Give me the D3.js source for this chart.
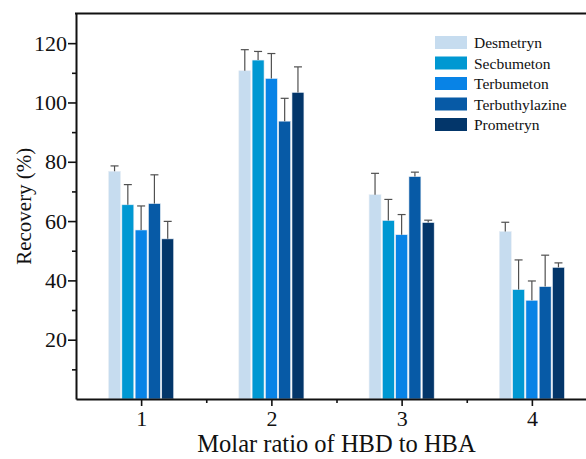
<!DOCTYPE html>
<html>
<head>
  <script src="https://d3js.org/d3.v7.min.js"></script>
  <style>
    body { margin: 0; background: #fff; }
    text { font-family: "Liberation Serif", "Times New Roman", serif; fill: #111; }
  </style>
</head>
<body>
  <svg id="chart"></svg>
  <script>
    // molar ratio groups and compounds
    var ratios = [1, 2, 3, 4];
    var compounds = ['Desmetryn', 'Secbumeton', 'Terbumeton', 'Terbuthylazine', 'Prometryn'];
    var colors = ['#c6dcef', '#0098d2', '#0883e6', '#075aa6', '#03366a'];

    // recovery (%) per compound, one value per ratio
    var desmetryn      = [76.8, 110.7, 68.9, 56.5];
    var secbumeton     = [65.5, 114.3, 60.2, 36.9];
    var terbumeton     = [57.0, 108.1, 55.4, 33.3];
    var terbuthylazine = [65.9, 93.7, 75.0, 37.9];
    var prometryn      = [54.0, 103.4, 59.5, 44.4];

    // upper error (sd)
    var desmetrynErr      = [1.8, 7.1, 7.2, 3.1];
    var secbumetonErr     = [6.8, 2.9, 7.1, 10.0];
    var terbumetonErr     = [8.1, 8.4, 6.8, 6.5];
    var terbuthylazineErr = [9.7, 7.7, 1.5, 10.6];
    var prometrynErr      = [5.9, 8.6, 0.8, 1.5];

    var yTicks = [20, 40, 60, 80, 100, 120];
    var yMinor = [10, 30, 50, 70, 90, 110];
    var xMinor = [1.5, 2.5, 3.5];

    var values = [desmetryn, secbumeton, terbumeton, terbuthylazine, prometryn];
    var errors = [desmetrynErr, secbumetonErr, terbumetonErr, terbuthylazineErr, prometrynErr];

    var data = [];
    ratios.forEach(function(r, gi) {
      compounds.forEach(function(c, ci) {
        data.push({ ratio: r, name: c, value: values[ci][gi], err: errors[ci][gi], color: colors[ci] });
      });
    });

    var svgWidth = 586, svgHeight = 459;
    var plotLeft = 76, plotTop = 13.5, plotBottom = 399;

    var svg = d3.select('#chart')
      .attr('width', svgWidth)
      .attr('height', svgHeight);

    var x = d3.scaleLinear().domain([0.5, 4.5]).range([plotLeft, plotLeft + 521]);
    var y = d3.scaleLinear().domain([0, 130]).range([plotBottom, plotTop]);

    var unit = x(2) - x(1);
    var x1 = d3.scaleBand()
      .domain(compounds)
      .range([-0.25 * unit, 0.25 * unit])
      .paddingInner(0.1);

    // bars
    svg.append('g').selectAll('rect')
      .data(data)
      .enter().append('rect')
      .attr('x', function(d) { return x(d.ratio) + x1(d.name); })
      .attr('y', function(d) { return y(d.value); })
      .attr('width', x1.bandwidth())
      .attr('height', function(d) { return y(0) - y(d.value); })
      .attr('fill', function(d) { return d.color; })
      .attr('stroke', '#e8eef5')
      .attr('stroke-width', 0.6);

    // error bars (upper only)
    var eb = svg.append('g')
      .attr('stroke', '#505050')
      .attr('stroke-width', 1.2)
      .selectAll('g')
      .data(data)
      .enter().append('g');
    eb.append('line')
      .attr('x1', function(d) { return x(d.ratio) + x1(d.name) + x1.bandwidth() / 2; })
      .attr('x2', function(d) { return x(d.ratio) + x1(d.name) + x1.bandwidth() / 2; })
      .attr('y1', function(d) { return y(d.value); })
      .attr('y2', function(d) { return y(d.value + d.err); });
    eb.append('line')
      .attr('x1', function(d) { return x(d.ratio) + x1(d.name) + x1.bandwidth() / 2 - 4; })
      .attr('x2', function(d) { return x(d.ratio) + x1(d.name) + x1.bandwidth() / 2 + 4; })
      .attr('y1', function(d) { return y(d.value + d.err); })
      .attr('y2', function(d) { return y(d.value + d.err); });

    // axes
    svg.append('g')
      .attr('transform', 'translate(0,' + plotBottom + ')')
      .call(d3.axisBottom(x).tickValues(ratios).tickFormat(d3.format('d'))
        .tickSize(7).tickSizeOuter(0).tickPadding(4));
    svg.append('g')
      .attr('transform', 'translate(0,' + plotBottom + ')')
      .call(d3.axisBottom(x).tickValues(xMinor).tickFormat('').tickSize(4))
      .select('.domain').remove();

    svg.append('g')
      .attr('transform', 'translate(' + plotLeft + ',0)')
      .call(d3.axisLeft(y).tickValues(yTicks).tickSize(8).tickSizeOuter(0).tickPadding(1));
    svg.append('g')
      .attr('transform', 'translate(' + plotLeft + ',0)')
      .call(d3.axisLeft(y).tickValues(yMinor).tickFormat('').tickSize(4))
      .select('.domain').remove();

    svg.selectAll('.domain').attr('stroke', '#111').attr('stroke-width', 2);
    svg.selectAll('.tick line').attr('stroke', '#111').attr('stroke-width', 1.6);
    svg.selectAll('.tick text')
      .style('font-family', '"Liberation Serif", serif')
      .attr('font-size', 22)
      .attr('fill', '#111');

    // top frame line
    svg.append('line')
      .attr('x1', plotLeft - 1).attr('x2', svgWidth)
      .attr('y1', plotTop).attr('y2', plotTop)
      .attr('stroke', '#111').attr('stroke-width', 2);

    // axis titles
    svg.append('text')
      .attr('x', x(2.5))
      .attr('y', 452)
      .attr('text-anchor', 'middle')
      .attr('font-size', 24.5)
      .text('Molar ratio of HBD to HBA');

    svg.append('text')
      .attr('transform', 'translate(31,' + y(65) + ') rotate(-90)')
      .attr('text-anchor', 'middle')
      .attr('font-size', 21)
      .text('Recovery (%)');

    // legend
    var legend = svg.append('g')
      .attr('transform', 'translate(435,36)')
      .selectAll('g')
      .data(compounds)
      .enter().append('g')
      .attr('transform', function(d, i) { return 'translate(0,' + i * 20.5 + ')'; });
    legend.append('rect')
      .attr('width', 32)
      .attr('height', 13)
      .attr('fill', function(d, i) { return colors[i]; });
    legend.append('text')
      .attr('x', 39)
      .attr('y', 12)
      .attr('font-size', 15.5)
      .text(function(d) { return d; });
  </script>
</body>
</html>
